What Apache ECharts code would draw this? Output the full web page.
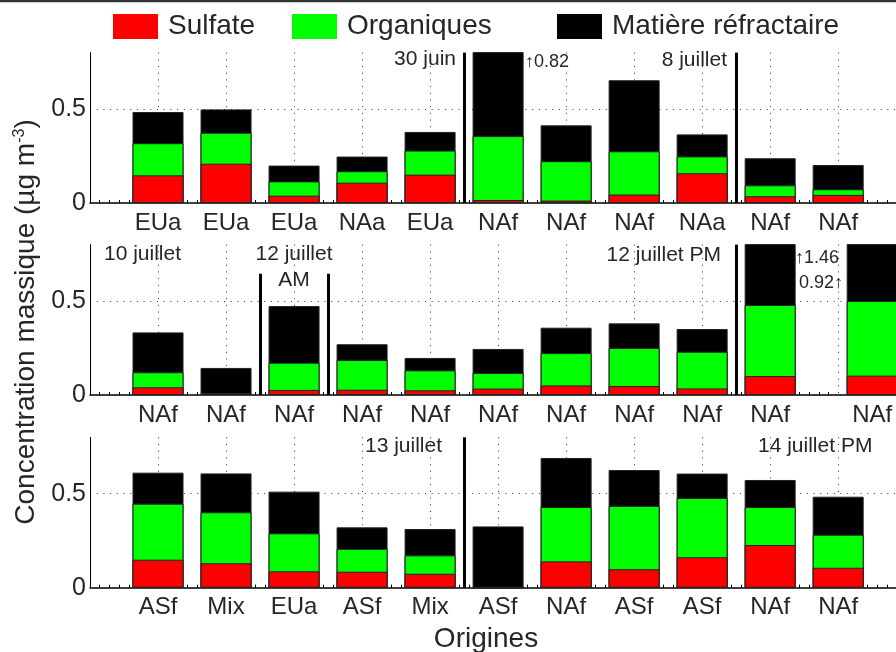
<!DOCTYPE html>
<html>
<head>
<meta charset="utf-8">
<script src="https://cdn.jsdelivr.net/npm/echarts@6.0.0/dist/echarts.min.js"></script>
<style>
html,body{margin:0;padding:0;background:#fff;}
#chart{width:896px;height:652px;}
</style>
</head>
<body>
<div id="chart"></div>
<script>
// ---- data ----
const seriesNames = ['Sulfate', 'Organiques', 'Matière réfractaire'];

const categories1 = ['EUa','EUa','EUa','NAa','EUa','NAf','NAf','NAf','NAa','NAf','NAf'];
const positions1  = [1,2,3,4,5,6,7,8,9,10,11];
const sulfate1    = [0.147,0.209,0.039,0.108,0.151,0.016,0.013,0.045,0.158,0.036,0.043];
const organic1    = [0.171,0.165,0.076,0.061,0.128,0.340,0.209,0.230,0.090,0.058,0.030];
const refract1    = [0.166,0.124,0.084,0.078,0.099,0.464,0.191,0.378,0.117,0.144,0.129];
const separators1 = [[5.5,0.8],[9.5,0.8]];

const categories2 = ['NAf','NAf','NAf','NAf','NAf','NAf','NAf','NAf','NAf','NAf','NAf'];
const positions2  = [1,2,3,4,5,6,7,8,9,10,11.5];
const sulfate2    = [0.041,0.009,0.027,0.028,0.025,0.034,0.051,0.048,0.035,0.101,0.103];
const organic2    = [0.080,0.000,0.145,0.158,0.106,0.083,0.172,0.202,0.195,0.378,0.397];
const refract2    = [0.212,0.135,0.301,0.084,0.066,0.128,0.135,0.131,0.121,0.981,0.420];
const separators2 = [[2.5,0.645],[3.5,0.645],[9.5,0.8]];

const categories3 = ['ASf','Mix','EUa','ASf','Mix','ASf','NAf','ASf','ASf','NAf','NAf'];
const positions3  = [1,2,3,4,5,6,7,8,9,10,11];
const sulfate3    = [0.149,0.130,0.087,0.085,0.074,0.000,0.140,0.098,0.162,0.227,0.106];
const organic3    = [0.298,0.271,0.202,0.122,0.098,0.000,0.289,0.337,0.315,0.202,0.176];
const refract3    = [0.165,0.207,0.222,0.114,0.140,0.326,0.261,0.191,0.130,0.144,0.202];
const separators3 = [[5.5,0.8]];

const yTicks = [0, 0.5];

// ---- chart ----
const colors = ['#ff0000', '#00ff00', '#000000'];
const textColor = '#262626';
const FONT = "'Liberation Sans', Arial, Helvetica, sans-serif";
const dotted = {color:'#333', width:1, type:[1,5.7]};
const X_MAX = 11.85;   // plot area runs past the right edge of the picture

const panels = [
  {cats:categories1, pos:positions1, vals:[sulfate1, organic1, refract1], seps:separators1, top:52.6},
  {cats:categories2, pos:positions2, vals:[sulfate2, organic2, refract2], seps:separators2, top:244.6},
  {cats:categories3, pos:positions3, vals:[sulfate3, organic3, refract3], seps:separators3, top:437.3}
];

const grid = [], xAxis = [], yAxis = [], series = [];
panels.forEach((p, i) => {
  grid.push({left:90, top:p.top, right:0, height:150.4});
  xAxis.push({
    type:'value', gridIndex:i, min:0, max:X_MAX, interval:1, position:'bottom',
    axisLine:{show:true, onZero:false, lineStyle:{color:'#000', width:1.5}},
    axisTick:{show:false, inside:true},
    minorTick:{show:true, splitNumber:7, length:3, lineStyle:{color:'#000', width:1}},
    axisLabel:{show:false},
    splitLine:{show:true, showMinLine:false, showMaxLine:false, lineStyle:dotted}
  });
  xAxis.push({
    type:'value', gridIndex:i, min:0, max:X_MAX, interval:0.5, position:'bottom',
    axisLine:{show:false}, axisTick:{show:false}, splitLine:{show:false},
    axisLabel:{
      show:true, margin:8, fontSize:24, color:textColor, fontFamily:FONT,
      showMaxLabel:false,
      formatter:(v) => {
        const k = p.pos.findIndex(q => Math.abs(q - v) < 1e-6);
        return k >= 0 ? p.cats[k] : '';
      }
    }
  });
  yAxis.push({
    type:'value', gridIndex:i, min:0, max:0.8, interval:0.5,
    axisLine:{show:true, onZero:false, lineStyle:{color:'#000', width:1}},
    axisTick:{show:false},
    axisLabel:{
      fontSize:25, color:textColor, fontFamily:FONT, margin:4, showMaxLabel:false,
      formatter:(v) => yTicks.some(t => Math.abs(t - v) < 1e-9) ? String(v) : ''
    },
    splitLine:{show:true, showMinLine:false, showMaxLine:false, lineStyle:dotted}
  });
  // cumulative tops: each layer drawn from 0 to its cumulative top, upper layers behind
  p.vals.forEach((vals, s) => {
    const tops = p.pos.map((x, k) => {
      let sum = 0;
      for (let j = 0; j <= s; j++) sum += p.vals[j][k];
      return [x, +sum.toFixed(4)];
    });
    const ser = {
      name:seriesNames[s], type:'bar',
      xAxisIndex:2 * i, yAxisIndex:i, barWidth:51, barGap:'-100%',
      itemStyle:{color:colors[s], borderColor:'#222', borderWidth:1},
      data:tops,
      z:5 - s
    };
    if (s === 0) {
      ser.markLine = {
        silent:true, symbol:['none','none'], animation:false,
        label:{show:false},
        lineStyle:{color:'#000', width:3, type:'solid'},
        data:p.seps.map(sp => [{coord:[sp[0], 0]}, {coord:[sp[0], sp[1]]}])
      };
    }
    series.push(ser);
  });
});

function legendAt(name, left) {
  return {
    data:[name], left:left, top:12.5, padding:0,
    icon:'rect', itemWidth:45, itemHeight:25,
    itemStyle:{borderWidth:0},
    textStyle:{fontSize:28, color:textColor, fontFamily:FONT, padding:[0,0,0,5]},
    selectedMode:false
  };
}

function txt(text, x, y, size, align) {
  return {type:'text', z:10, style:{text:text, x:x, y:y, fontSize:size, fontFamily:FONT,
    fill:textColor, align:align, verticalAlign:'middle'}};
}

const graphic = [
  {type:'line', z:10, shape:{x1:0, y1:1, x2:896, y2:1}, style:{stroke:'#333', lineWidth:2.5}},
  txt('30 juin', 456, 59, 21, 'right'),
  txt('↑0.82', 525, 62, 18, 'left'),
  txt('8 juillet', 727, 60, 21, 'right'),
  txt('10 juillet', 104, 254, 21, 'left'),
  txt('12 juillet', 294, 254, 21, 'center'),
  txt('AM', 294, 280, 21, 'center'),
  txt('12 juillet PM', 721, 255, 21, 'right'),
  txt('↑1.46', 795, 258, 18, 'left'),
  txt('0.92↑', 843, 283, 18, 'right'),
  txt('13 juillet', 442, 446, 21, 'right'),
  txt('14 juillet PM', 758, 446, 21, 'left'),
  txt('Origines', 486, 639, 28, 'center'),
  {type:'text', z:10, x:26, y:322, rotation:Math.PI / 2,
    style:{text:'{a|Concentration massique (µg m}{s|-3}{a|)}', x:0, y:0,
      align:'center', verticalAlign:'middle', fill:textColor, fontFamily:FONT,
      rich:{a:{fontSize:28, fontFamily:FONT, fill:textColor},
            s:{fontSize:16, fontFamily:FONT, fill:textColor, verticalAlign:'top'}}}}
];

const chart = echarts.init(document.getElementById('chart'), null, {renderer:'canvas'});
chart.setOption({
  animation:false,
  backgroundColor:'#fff',
  textStyle:{fontFamily:FONT},
  legend:[legendAt('Sulfate', 113), legendAt('Organiques', 292), legendAt('Matière réfractaire', 557)],
  grid:grid, xAxis:xAxis, yAxis:yAxis, series:series, graphic:graphic
});
</script>
</body>
</html>
